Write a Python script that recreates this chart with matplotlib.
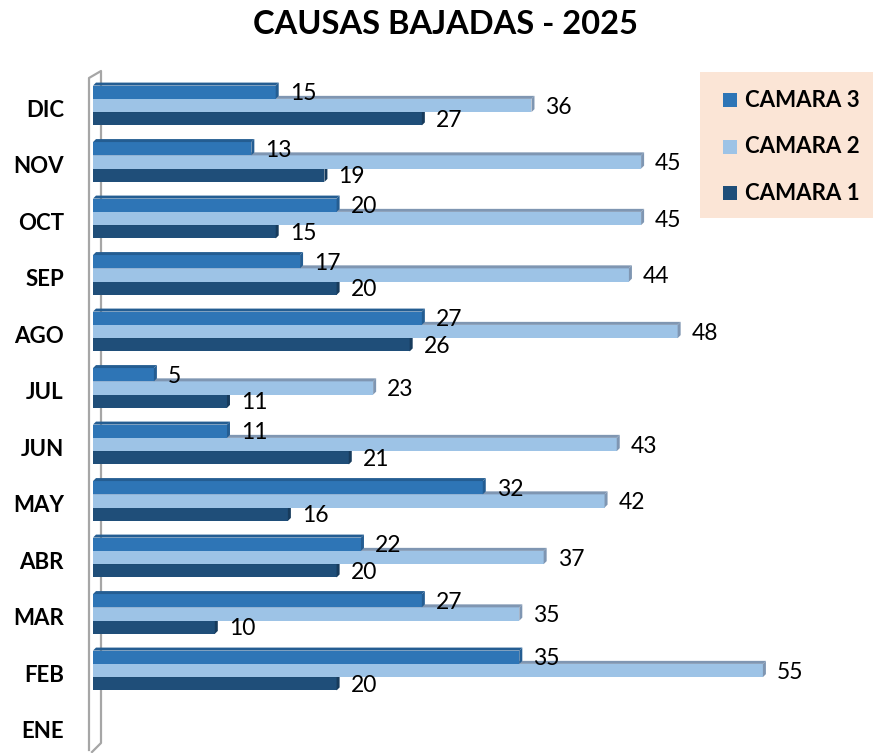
import numpy as np
import matplotlib
matplotlib.use("Agg")
import matplotlib.pyplot as plt
from matplotlib.patches import Polygon, Rectangle

plt.rcParams['font.family'] = ['Lato', 'DejaVu Sans']

# data (bottom to top)
meses = ['ENE', 'FEB', 'MAR', 'ABR', 'MAY', 'JUN', 'JUL', 'AGO', 'SEP', 'OCT', 'NOV', 'DIC']
camara1 = [None, 20, 10, 20, 16, 21, 11, 26, 20, 15, 19, 27]
camara2 = [None, 55, 35, 37, 42, 43, 23, 48, 44, 45, 45, 36]
camara3 = [None, 35, 27, 22, 32, 11, 5, 27, 17, 20, 13, 15]
series = ['CAMARA 3', 'CAMARA 2', 'CAMARA 1']

col1 = '#1f4e79'
col2 = '#9dc3e6'
col3 = '#2e75b6'
top1 = '#173b5c'
top2 = '#7f96b2'
top3 = '#245d92'

W, H = 873, 753
fig = plt.figure(figsize=(W / 100, H / 100), dpi=100)

# background axes in pixel coords for the side wall
bg = fig.add_axes([0, 0, 1, 1], zorder=0)
bg.set_xlim(0, W)
bg.set_ylim(H, 0)
bg.axis('off')
wall_x = [89, 89, 101, 101, 92]
wall_y = [750, 78, 71, 743, 752]
bg.plot(wall_x, wall_y, color='#a6a6a6', lw=1.6, solid_joinstyle='round')

px_x = 12.18   # pixels per unit
px_y = 56.5    # pixels per category
left = 93
ycen = 105.5   # pixel row of DIC group centre
xmax = (W - left) / px_x
ytop = 11 + ycen / px_y
ybot = 11 - (H - ycen) / px_y

ax = fig.add_axes([left / W, 0, (W - left) / W, 1], zorder=1)
ax.patch.set_alpha(0)
ax.set_xlim(0, xmax)
ax.set_ylim(ybot, ytop)

h = 0.235
dx = 3 / px_x
dy = 3 / px_y


def bar3d(y, v, face, top):
    y0, y1 = y - h / 2, y + h / 2
    ax.add_patch(Rectangle((0, y0), v, h, facecolor=face, edgecolor='none', zorder=2))
    ax.add_patch(Polygon([(0, y1), (v, y1), (v + dx, y1 + dy), (dx, y1 + dy)],
                         closed=True, facecolor=top, edgecolor='none', zorder=2))
    ax.add_patch(Polygon([(v, y0), (v + dx, y0 + dy), (v + dx, y1 + dy), (v, y1)],
                         closed=True, facecolor=top, edgecolor='none', zorder=2))
    ax.text(v + 1.15, y - 0.03, str(v), ha='left', va='center', fontsize=16.5,
            color='black', zorder=3)


for i in range(len(meses)):
    if camara1[i] is None:
        continue
    bar3d(i - h, camara1[i], col1, top1)
    bar3d(i, camara2[i], col2, top2)
    bar3d(i + h, camara3[i], col3, top3)

ax.set_yticks([i - 0.05 for i in range(len(meses))])
ax.set_yticklabels(meses, fontsize=16, fontweight='bold')
ax.tick_params(axis='y', length=0, pad=21)
ax.set_xticks([])
for s in ax.spines.values():
    s.set_visible(False)

fig.text(445 / W, 1 - 24 / H, 'CAUSAS BAJADAS - 2025', ha='center', va='center',
         fontsize=23.5, fontweight='bold')

# legend box
bg.add_patch(Rectangle((700, 72), 173, 146, facecolor='#fbe5d6', edgecolor='none', zorder=1))
leg_cols = [col3, col2, col1]
for k, (name, c) in enumerate(zip(series, leg_cols)):
    yy = 100 + k * 46.5
    bg.add_patch(Rectangle((723, yy - 7), 14, 14, facecolor=c, edgecolor='none', zorder=2))
    bg.text(745, yy, name, ha='left', va='center', fontsize=16, fontweight='bold', zorder=3)

fig.savefig('out.png', dpi=100)
